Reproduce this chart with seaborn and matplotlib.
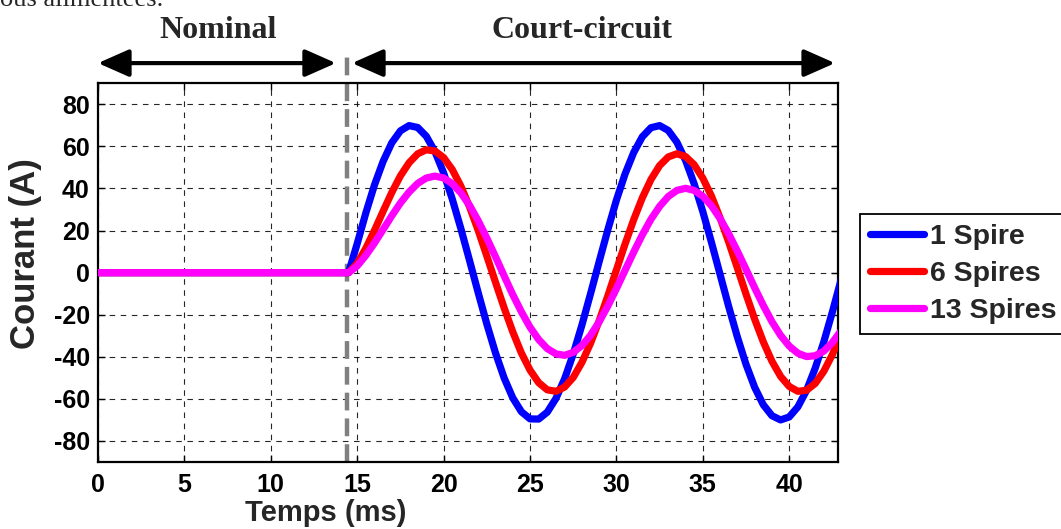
import numpy as np
import pandas as pd
import matplotlib
matplotlib.use("Agg")
import matplotlib.pyplot as plt
import seaborn as sns

# ---------------- data ----------------
time_ms = [0.0, 14.5] + [15.0 + 0.5 * k for k in range(57)]

spire_1 = [0, 0, 13.8, 28.4, 41.7, 52.9, 61.7, 67.4, 69.9, 69.0, 64.8, 57.5,
           47.4, 35.0, 20.9, 5.8, -9.5, -24.4, -38.1, -50.0, -59.5, -66.1,
           -69.5, -69.6, -66.3, -59.8, -50.5, -38.7, -25.0, -10.1, 5.2, 20.3,
           34.5, 46.9, 57.1, 64.6, 68.9, 69.9, 67.6, 62.0, 53.4, 42.2,
           29.0, 14.4, -0.9, -16.2, -30.6, -43.6, -54.5, -62.8, -68.0, -70.0,
           -68.6, -63.8, -56.0, -45.5, -32.9, -18.6, -3.4]

spires_6 = [0, 0, 4.4, 11.6, 20.1, 29.2, 38.1, 46.0, 52.2, 56.5, 58.4, 57.8,
            54.7, 49.0, 41.1, 31.3, 20.1, 7.9, -4.5, -16.7, -28.1, -38.2,
            -46.3, -52.3, -55.7, -56.4, -54.4, -49.8, -42.7, -33.6, -22.9, -11.1,
            1.3, 13.6, 25.2, 35.6, 44.3, 50.9, 55.0, 56.5, 55.2, 51.3,
            44.9, 36.4, 26.0, 14.5, 2.2, -10.2, -22.1, -32.9, -42.1, -49.3,
            -54.1, -56.4, -55.9, -52.7, -46.9, -38.9, -29.1]

spires_13 = [0, 0, 3.2, 8.2, 14.1, 20.5, 27.0, 33.1, 38.3, 42.4, 45.0, 45.9,
             45.0, 42.3, 37.9, 32.0, 24.7, 16.4, 7.6, -1.5, -10.4, -18.6,
             -25.9, -31.8, -36.1, -38.6, -39.3, -37.9, -34.7, -29.8, -23.4, -15.9,
             -7.6, 1.1, 9.8, 18.0, 25.4, 31.5, 36.2, 39.1, 40.1, 39.1,
             36.3, 31.8, 25.7, 18.4, 10.2, 1.6, -7.2, -15.6, -23.3, -29.8,
             -34.9, -38.3, -39.9, -39.5, -37.3, -33.2, -27.6]

series_names = ["1 Spire", "6 Spires", "13 Spires"]
series_colors = ["#0000FF", "#FF0000", "#FF00FF"]
x_ticks = [0, 5, 10, 15, 20, 25, 30, 35, 40]
y_ticks = [-80, -60, -40, -20, 0, 20, 40, 60, 80]
fault_time = 14.4
region_labels = ["Nominal", "Court-circuit"]

df = pd.DataFrame({"Temps": time_ms, series_names[0]: spire_1,
                   series_names[1]: spires_6, series_names[2]: spires_13})
long_df = df.melt(id_vars="Temps", var_name="Serie", value_name="Courant")

# ---------------- style ----------------
sns.set_theme(style="ticks")
plt.rcParams["font.family"] = ["Liberation Sans", "DejaVu Sans"]
plt.rcParams["font.weight"] = "bold"

W, H = 1061, 529
fig = plt.figure(figsize=(W / 100, H / 100), dpi=100)
fig.patch.set_facecolor("white")
ax = fig.add_axes([98 / W, 1 - 462 / H, (838.3 - 98) / W, (462 - 83.3) / H])

sns.lineplot(data=long_df, x="Temps", y="Courant", hue="Serie",
             hue_order=series_names, palette=series_colors, linewidth=5.2,
             ax=ax, legend=True, zorder=3)

ax.set_xlim(0, 42.84)
ax.set_ylim(-90, 90)
ax.set_xticks(x_ticks)
ax.set_yticks(y_ticks)
ax.set_xticklabels([str(v) for v in x_ticks])
ax.set_yticklabels([str(v) for v in y_ticks])
ax.tick_params(direction="in", length=5, width=1, top=True, right=True,
               labelsize=18, colors="black")
ax.tick_params(axis="y", pad=6)
ax.tick_params(axis="x", pad=8)
for lab in ax.get_xticklabels() + ax.get_yticklabels():
    lab.set_fontweight("bold")
for sp in ax.spines.values():
    sp.set_visible(True)
    sp.set_color("black")
    sp.set_linewidth(1.6)

ax.grid(True, color="black", linestyle=(0, (5, 5)), linewidth=0.8, alpha=0.85)
ax.set_axisbelow(True)

# fault instant marker (extends above axes)
ax.plot([fault_time, fault_time], [-90, 103], color="#808080", lw=3.2,
        ls=(0, (4, 1.8)), clip_on=False, zorder=2)

ax.set_xlabel("Temps (ms)", fontsize=21, fontweight="bold")
ax.set_ylabel("Courant (A)", fontsize=25, fontweight="bold")
ax.xaxis.set_label_coords((326 - 98) / (838.3 - 98), -(513 - 462) / (462 - 83.3))
ax.xaxis.label.set_va("center")
ax.yaxis.set_label_coords((26 - 98) / (838.3 - 98), (462 - 254) / (462 - 83.3))
ax.yaxis.label.set_va("center")

# region arrows and titles
arrow_y = 99.6
arr = dict(arrowstyle="<|-|>,head_length=0.95,head_width=0.42", lw=3,
           color="black", mutation_scale=20, shrinkA=0, shrinkB=0)
ax.annotate("", xy=(0.0, arrow_y), xytext=(13.77, arrow_y), xycoords="data",
            arrowprops=arr, annotation_clip=False)
ax.annotate("", xy=(14.7, arrow_y), xytext=(42.65, arrow_y), xycoords="data",
            arrowprops=arr, annotation_clip=False)
fig.text(218 / W, 1 - 38 / H, region_labels[0], ha="center", va="baseline",
         fontsize=23, fontweight="bold", family=["Liberation Serif", "DejaVu Serif"])
fig.text(582 / W, 1 - 38 / H, region_labels[1], ha="center", va="baseline",
         fontsize=23, fontweight="bold", family=["Liberation Serif", "DejaVu Serif"])

# cropped document line at the very top
fig.text(0.0, 1 - 6 / H, "ous alimentées.", ha="left", va="baseline",
         fontsize=19, fontweight="normal", family=["Liberation Serif", "DejaVu Serif"])

# legend outside the axes (cut by the right edge)
handles, labels = ax.get_legend_handles_labels()
ax.get_legend().remove()
leg = fig.legend(handles, labels, loc="center left",
                 bbox_to_anchor=(860 / W, 1 - 274 / H), frameon=True,
                 fancybox=False, edgecolor="black", facecolor="white",
                 framealpha=1, prop={"size": 20.5, "weight": "bold"},
                 handlelength=1.9, handletextpad=0.2, labelspacing=0.4,
                 borderpad=0.35, borderaxespad=0)
leg.get_frame().set_linewidth(1.3)
for h in leg.get_lines():
    h.set_linewidth(5.2)

fig.savefig("out.png", dpi=100)
